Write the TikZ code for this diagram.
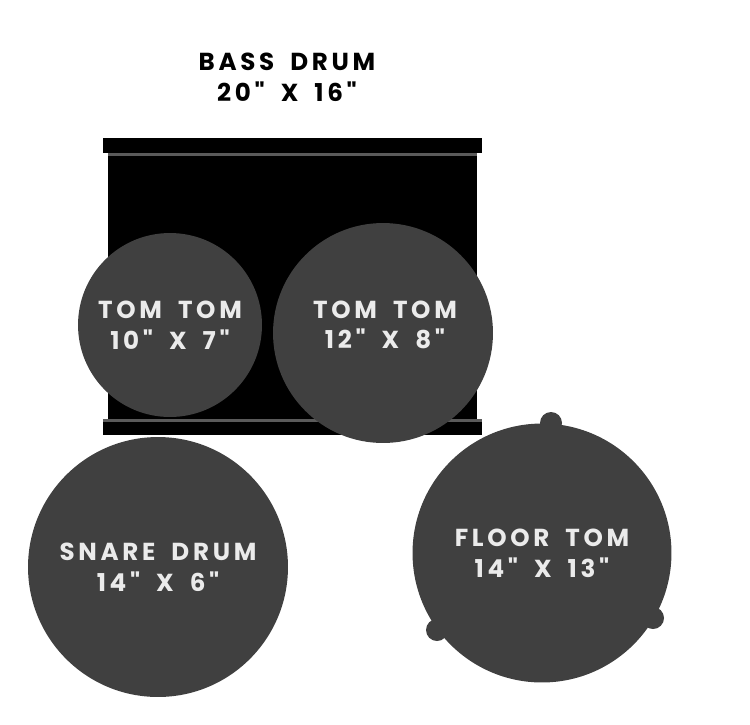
\documentclass[tikz,border=0pt]{standalone}
\usepackage{xcolor}
\usepackage{fontspec}
\usepackage{tikz}
\newfontfamily\drumfont{Poppins}[LetterSpace=15,WordSpace=1.8]
\definecolor{shellgrey}{HTML}{404040}
\definecolor{rimgrey}{HTML}{5A5A5A}
\definecolor{labelwhite}{HTML}{EBEBEB}

\begin{document}
\begin{tikzpicture}[x=0.02cm,y=-0.02cm,
        drumtext/.style={align=center,font=\drumfont\bfseries\fontsize{14}{17.5}\selectfont},
        drum/.style={circle,fill=shellgrey,inner sep=0pt,drumtext,text=labelwhite},
        leg/.style={circle,fill=shellgrey,inner sep=0pt,minimum size=0.44cm}]
            \useasboundingbox (0,0) rectangle (750,724);
            % bass drum seen from the front
            \node[drumtext] (basslabel) at (287,77) {BASS DRUM\\20" X 16"};
            \fill (108,150) rectangle (477,425);
            \fill (103,138) rectangle (482,153);
            \fill[rimgrey] (108,153) rectangle (477,155.5);
            \fill (103,421) rectangle (482,435);
            \fill[rimgrey] (103,419) rectangle (482,421.5);
            % toms
            \node[drum,minimum size=3.68cm] (tom10) at (170,325) {TOM TOM\\10" X 7"};
            \node[drum,minimum size=4.4cm] (tom12) at (383,333) {};
            \node[drumtext,text=labelwhite] (tom12label) at (385,325) {TOM TOM\\12" X 8"};
            \node[drum,minimum size=5.2cm] (snare) at (158,567) {SNARE DRUM\\14" X 6"};
            % floor tom with its three legs
            \node[leg] (legtop) at (551,423) {};
            \node[leg] (legleft) at (437,630) {};
            \node[leg] (legright) at (653,618) {};
            \node[drum,minimum size=5.18cm] (floortom) at (542,553) {FLOOR TOM\\14" X 13"};
        \end{tikzpicture}
\end{document}
